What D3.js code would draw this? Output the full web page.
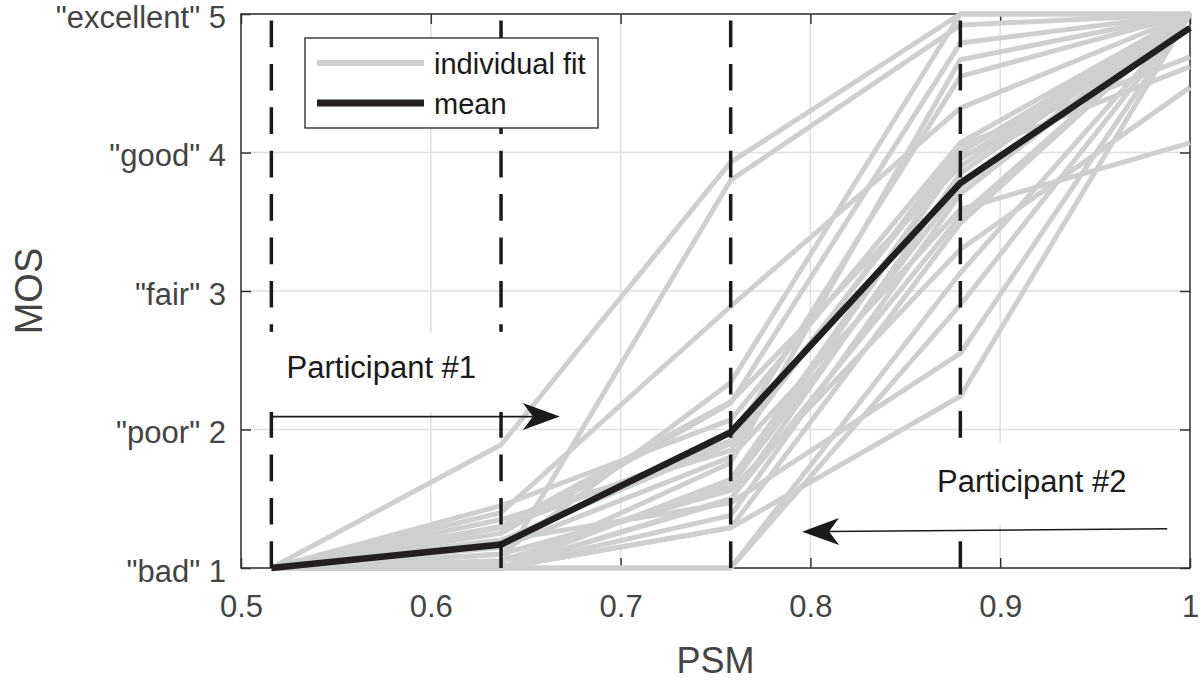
<!DOCTYPE html>
<html><head><meta charset="utf-8">
<script src="https://cdn.jsdelivr.net/npm/d3@7"></script>
<style>
body{margin:0;background:#fff}
text{font-family:"Liberation Sans",Arial,Helvetica,sans-serif}
</style></head>
<body><svg id="c" width="1200" height="685"></svg>
<script>
// ---------- data ----------
const psmLevels = [0.516, 0.637, 0.758, 0.879, 1.0];
const xTicks = [0.5, 0.6, 0.7, 0.8, 0.9, 1];
const xTickLabels = ["0.5", "0.6", "0.7", "0.8", "0.9", "1"];
const yTicks = [1, 2, 3, 4, 5];
const yTickLabels = ['"bad" 1', '"poor" 2', '"fair" 3', '"good" 4', '"excellent" 5'];
const meanMOS = [1.0, 1.17, 1.98, 3.78, 4.90];
// individual fits: MOS of each participant at each PSM level
const fitAtPSM1 = [1,1,1,1,1,1,1,1,1,1,1,1,1,1,1,1,1,1,1,1,1,1,1,1];
const fitAtPSM2 = [1.89,1.02,1.40,1.10,1.25,1.00,1.29,1.45,1.35,1.20,1.00,1.05,1.30,1.00,1.15,1.00,1.00,1.10,1.00,1.20,1.00,1.00,1.05,1.00];
const fitAtPSM3 = [3.93,3.80,2.89,2.34,2.19,1.76,1.92,2.07,1.85,1.90,1.64,1.59,2.20,1.49,1.80,1.50,1.29,1.56,1.00,1.47,1.29,1.38,1.60,1.00];
const fitAtPSM4 = [5.00,4.92,4.32,5.00,4.79,4.67,4.55,4.07,4.05,4.00,3.97,3.95,3.90,3.85,3.59,3.54,3.49,3.30,3.13,2.55,2.24,3.70,3.75,2.90];
const fitAtPSM5 = [5.00,5.00,5.00,5.00,5.00,5.00,5.00,5.00,4.69,5.00,4.62,5.00,5.00,5.00,4.07,5.00,5.00,4.47,5.00,5.00,5.00,5.00,5.00,5.00];
const legendLabels = ["individual fit", "mean"];
// annotations (data coordinates)
const annotations = [
  {text: "Participant #1", x: 0.524, y: 2.37, box: [0.509, 2.705, 0.643, 2.127],
   arrow: [0.516, 2.093, 0.668, 2.093]},
  {text: "Participant #2", x: 0.8667, y: 1.55, box: [0.860, 1.903, 0.995, 1.311],
   arrow: [0.988, 1.283, 0.7956, 1.262]}
];

// ---------- chart ----------
const svg = d3.select("#c");
const M = {left: 241, right: 1190, top: 14, bottom: 568};
const x = d3.scaleLinear().domain([0.5, 1]).range([M.left, M.right]);
const y = d3.scaleLinear().domain([1, 5]).range([M.bottom, M.top]);
const axisCol = "#333333", labelCol = "#444444";

// grid
const grid = svg.append("g");
grid.selectAll("line.gx").data(xTicks).join("line").attr("class","gx")
  .attr("x1", d => x(d)).attr("x2", d => x(d)).attr("y1", M.top).attr("y2", M.bottom)
  .attr("stroke", "#e0e0e0").attr("stroke-width", 1.5);
grid.selectAll("line.gy").data(yTicks).join("line").attr("class","gy")
  .attr("y1", d => y(d)).attr("y2", d => y(d)).attr("x1", M.left).attr("x2", M.right)
  .attr("stroke", "#e0e0e0").attr("stroke-width", 1.5);

// axes box
svg.append("rect").attr("x", M.left).attr("y", M.top)
  .attr("width", M.right - M.left).attr("height", M.bottom - M.top)
  .attr("fill", "none").attr("stroke", axisCol).attr("stroke-width", 1.5);

function styleAxis(g, showLabels) {
  g.select(".domain").remove();
  g.selectAll(".tick line").attr("stroke", axisCol).attr("stroke-width", 1.5);
  if (!showLabels) g.selectAll(".tick text").remove();
  else g.selectAll(".tick text").attr("fill", labelCol).attr("font-size", 31)
        .attr("font-family", '"Liberation Sans",Arial,sans-serif');
}
svg.append("g").attr("transform", `translate(0,${M.bottom})`)
  .call(d3.axisBottom(x).tickValues(xTicks).tickFormat((d,i) => xTickLabels[i]).tickSize(-10).tickPadding(27))
  .call(g => styleAxis(g, true));
svg.append("g").attr("transform", `translate(0,${M.top})`)
  .call(d3.axisTop(x).tickValues(xTicks).tickSize(-10))
  .call(g => styleAxis(g, false));
svg.append("g").attr("transform", `translate(${M.left},0)`)
  .call(d3.axisLeft(y).tickValues(yTicks).tickFormat((d,i) => yTickLabels[i]).tickSize(-10).tickPadding(15))
  .call(g => styleAxis(g, true))
  .call(g => g.selectAll(".tick text").attr("dy", "0.42em"));
svg.append("g").attr("transform", `translate(${M.right},0)`)
  .call(d3.axisRight(y).tickValues(yTicks).tickSize(-10))
  .call(g => styleAxis(g, false));

// axis titles
svg.append("text").attr("x", (M.left + M.right) / 2).attr("y", 673)
  .attr("text-anchor", "middle").attr("font-size", 36).attr("fill", labelCol).text("PSM");
svg.append("text").attr("transform", `translate(42,${(M.top + M.bottom) / 2}) rotate(-90)`)
  .attr("text-anchor", "middle").attr("font-size", 38).attr("fill", labelCol).text("MOS");

// individual fits
const participants = fitAtPSM1.map((v, i) => [fitAtPSM1[i], fitAtPSM2[i], fitAtPSM3[i], fitAtPSM4[i], fitAtPSM5[i]]);
const line = d3.line().x((d, i) => x(psmLevels[i])).y(d => y(d));
svg.append("g").selectAll("path").data(participants).join("path")
  .attr("d", line).attr("fill", "none").attr("stroke", "#cfcfd0")
  .attr("stroke-width", 5).attr("stroke-linejoin", "round");

// mean
svg.append("path").datum(meanMOS).attr("d", line).attr("fill", "none")
  .attr("stroke", "#231f20").attr("stroke-width", 6.5).attr("stroke-linejoin", "miter");

// dashed condition lines
svg.append("g").selectAll("line").data(psmLevels.slice(0, 4)).join("line")
  .attr("x1", d => x(d)).attr("x2", d => x(d)).attr("y1", y(1)).attr("y2", y(5))
  .attr("stroke", "#1a1a1a").attr("stroke-width", 3.5).attr("stroke-dasharray", "26.7 16.7");

// annotations
const ann = svg.append("g");
annotations.forEach(a => {
  ann.append("rect").attr("x", x(a.box[0])).attr("y", y(a.box[1]))
    .attr("width", x(a.box[2]) - x(a.box[0])).attr("height", y(a.box[3]) - y(a.box[1]))
    .attr("fill", "#fff");
  ann.append("text").attr("x", x(a.x)).attr("y", y(a.y)).attr("font-size", 31)
    .attr("fill", "#1a1a1a").text(a.text);
  const x0 = x(a.arrow[0]), y0 = y(a.arrow[1]), x1 = x(a.arrow[2]), y1 = y(a.arrow[3]);
  const ang = Math.atan2(y1 - y0, x1 - x0), c = Math.cos(ang), s = Math.sin(ang);
  const L = 37, W = 13.5, N = 27;
  const pt = (along, perp) => [x1 - c * along - s * perp, y1 - s * along + c * perp];
  const notch = pt(N, 0);
  ann.append("line").attr("x1", x0).attr("y1", y0).attr("x2", notch[0]).attr("y2", notch[1])
    .attr("stroke", "#1a1a1a").attr("stroke-width", 1.6);
  ann.append("path").attr("d", d3.line()([[x1, y1], pt(L, W), notch, pt(L, -W)]) + "Z")
    .attr("fill", "#1a1a1a");
});

// legend
const lg = svg.append("g");
lg.append("rect").attr("x", 305).attr("y", 38).attr("width", 293).attr("height", 90)
  .attr("fill", "#fff").attr("stroke", "#262626").attr("stroke-width", 1.3);
const legendStyles = [{stroke: "#cfcfd0", w: 6}, {stroke: "#231f20", w: 7}];
legendLabels.forEach((lab, i) => {
  const cy = 63 + i * 40;
  lg.append("line").attr("x1", 317).attr("x2", 424).attr("y1", cy).attr("y2", cy)
    .attr("stroke", legendStyles[i].stroke).attr("stroke-width", legendStyles[i].w);
  lg.append("text").attr("x", 434).attr("y", cy + 11).attr("font-size", 29)
    .attr("fill", "#1a1a1a").text(lab);
});
</script>
</body></html>
